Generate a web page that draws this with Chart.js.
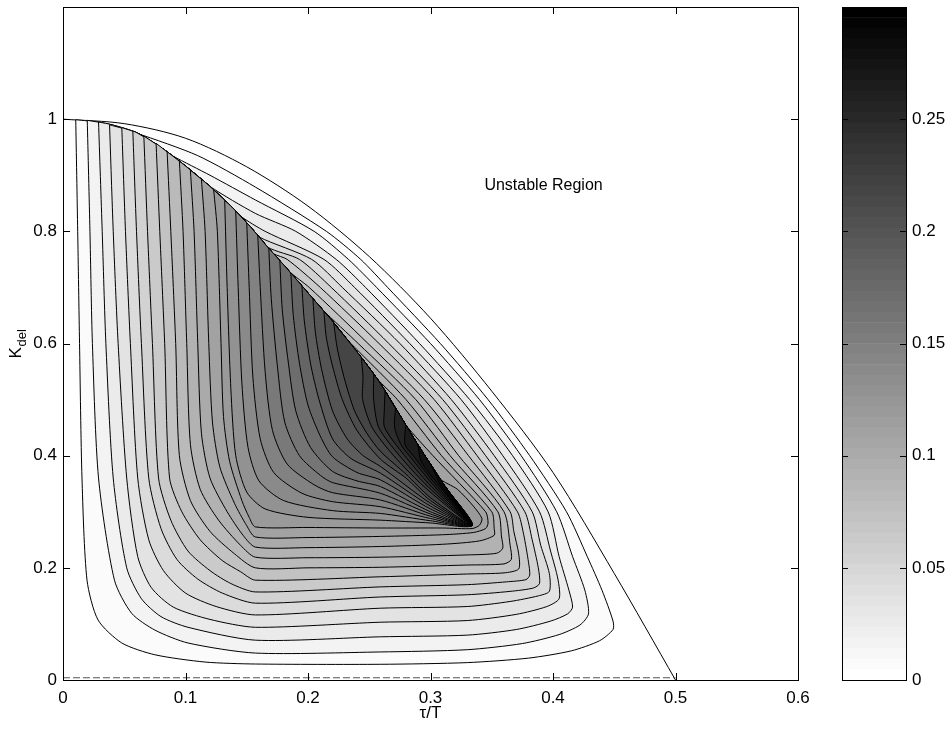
<!DOCTYPE html>
<html>
<head>
<meta charset="utf-8">
<script src="https://cdn.jsdelivr.net/npm/chart.js@4.4.0/dist/chart.umd.min.js"></script>
<style>
  html, body { margin: 0; padding: 0; background: #fff; }
  #wrap { position: relative; width: 951px; height: 730px; }
  canvas { position: absolute; left: 0; top: 0; }
</style>
</head>
<body>
<div id="wrap">
  <canvas id="main" width="951" height="730"></canvas>
  <canvas id="cbar" width="951" height="730"></canvas>
</div>
<script>
const xTicks = [0, 0.1, 0.2, 0.3, 0.4, 0.5, 0.6];
const yTicks = [0, 0.2, 0.4, 0.6, 0.8, 1];
const cbarTicks = [0, 0.05, 0.1, 0.15, 0.2, 0.25];

// stability boundary (level 0)
const boundaryX = [0, 0.05, 0.1, 0.15, 0.2, 0.25, 0.3, 0.35, 0.4, 0.45, 0.5];
const boundaryK = [1, 0.992, 0.966, 0.915, 0.845, 0.755, 0.645, 0.515, 0.37, 0.19, 0];

// thick ridge where the contours pile up, from (0,1) down to the focus point
const ridgeX = [0, 0.020, 0.040, 0.061, 0.083, 0.102, 0.120, 0.138, 0.153, 0.167, 0.185, 0.202, 0.218, 0.232, 0.246, 0.259, 0.275, 0.291, 0.312, 0.334];
const ridgeK = [1, 0.998, 0.990, 0.975, 0.945, 0.913, 0.880, 0.843, 0.808, 0.772, 0.728, 0.685, 0.645, 0.607, 0.568, 0.529, 0.472, 0.415, 0.345, 0.276];

// contour levels
const levels = [0.0091, 0.0182, 0.0273, 0.0364, 0.0455, 0.0546, 0.0637, 0.0728, 0.0819, 0.0910,
  0.1001, 0.1092, 0.1183, 0.1274, 0.1365, 0.1456, 0.1547, 0.1638, 0.1729, 0.1820,
  0.1911, 0.2002, 0.2093, 0.2184, 0.2275, 0.2366, 0.2457, 0.2548, 0.2639, 0.2730,
  0.2821, 0.2912];

// each contour starts where it leaves the ridge, runs down the left side,
// round the bottom and back up to the ridge (or into the focus point)
const contour01 = [[0.0104,0.999],[0.012,0.8],[0.0135,0.6],[0.0155,0.36],[0.0196,0.178],[0.0286,0.107],[0.048,0.066],[0.075,0.045],[0.116,0.032],[0.157,0.0285],[0.259,0.028],[0.33,0.031],[0.38,0.039],[0.415,0.052],[0.438,0.07],[0.449,0.09],[0.449,0.105],[0.44,0.16],[0.428,0.22],[0.411,0.3],[0.381,0.4],[0.347,0.5],[0.308,0.6],[0.265,0.7],[0.243,0.75],[0.215,0.8],[0.157,0.879],[0.11,0.935],[0.06,0.975],[0.03,0.994]];
const contour02 = [[0.0198,0.998],[0.022,0.8],[0.024,0.6],[0.029,0.36],[0.042,0.178],[0.056,0.119],[0.075,0.089],[0.102,0.066],[0.157,0.048],[0.259,0.05],[0.33,0.054],[0.375,0.065],[0.405,0.081],[0.422,0.098],[0.429,0.118],[0.426,0.16],[0.416,0.22],[0.403,0.3],[0.374,0.4],[0.34,0.5],[0.3,0.6],[0.256,0.7],[0.233,0.75],[0.205,0.8],[0.157,0.856],[0.12,0.9],[0.09,0.934]];
const contour03 = [[0.029,0.995],[0.032,0.8],[0.035,0.6],[0.041,0.36],[0.052,0.2],[0.064,0.145],[0.08,0.113],[0.102,0.094],[0.157,0.071],[0.259,0.077],[0.33,0.08],[0.37,0.09],[0.398,0.105],[0.412,0.118],[0.416,0.13],[0.413,0.16],[0.405,0.22],[0.396,0.3],[0.367,0.4],[0.332,0.5],[0.291,0.6],[0.247,0.7],[0.223,0.75],[0.19,0.8],[0.157,0.832],[0.12,0.88]];
const contour04 = [[0.038,0.99],[0.041,0.8],[0.045,0.6],[0.052,0.36],[0.061,0.22],[0.072,0.165],[0.09,0.13],[0.12,0.108],[0.157,0.094],[0.259,0.103],[0.33,0.106],[0.37,0.117],[0.395,0.131],[0.405,0.145],[0.404,0.18],[0.398,0.23],[0.389,0.3],[0.359,0.4],[0.325,0.5],[0.283,0.6],[0.238,0.7],[0.213,0.75],[0.165,0.8],[0.145,0.827]];
const contour05 = [[0.048,0.985],[0.051,0.8],[0.055,0.6],[0.061,0.36],[0.07,0.25],[0.082,0.195],[0.1,0.155],[0.125,0.131],[0.157,0.116],[0.259,0.128],[0.33,0.131],[0.365,0.14],[0.388,0.15],[0.397,0.158],[0.397,0.19],[0.39,0.24],[0.383,0.3],[0.352,0.4],[0.317,0.5],[0.275,0.6],[0.228,0.7],[0.203,0.75],[0.16,0.79]];
const contour06 = [[0.057,0.979],[0.06,0.8],[0.064,0.6],[0.07,0.36],[0.08,0.27],[0.093,0.215],[0.11,0.18],[0.13,0.155],[0.157,0.137],[0.259,0.148],[0.33,0.152],[0.365,0.158],[0.384,0.164],[0.389,0.172],[0.388,0.2],[0.383,0.25],[0.377,0.3],[0.345,0.4],[0.31,0.5],[0.266,0.6],[0.219,0.7],[0.193,0.75],[0.167,0.772]];
const contour07 = [[0.066,0.97],[0.069,0.8],[0.073,0.6],[0.078,0.36],[0.088,0.285],[0.102,0.23],[0.12,0.195],[0.137,0.172],[0.157,0.157],[0.259,0.166],[0.33,0.17],[0.362,0.175],[0.378,0.179],[0.381,0.187],[0.38,0.21],[0.376,0.26],[0.371,0.3],[0.338,0.4],[0.303,0.5],[0.258,0.6],[0.21,0.7],[0.183,0.75],[0.172,0.76]];
const contour08 = [[0.076,0.957],[0.079,0.8],[0.083,0.6],[0.087,0.36],[0.097,0.3],[0.112,0.25],[0.13,0.213],[0.145,0.193],[0.157,0.178],[0.259,0.184],[0.33,0.189],[0.36,0.191],[0.372,0.198],[0.372,0.225],[0.368,0.265],[0.365,0.3],[0.331,0.4],[0.295,0.5],[0.249,0.6],[0.201,0.7],[0.185,0.728]];
const contour09 = [[0.085,0.942],[0.088,0.8],[0.092,0.6],[0.095,0.4],[0.104,0.32],[0.12,0.265],[0.14,0.225],[0.157,0.2],[0.2,0.2],[0.259,0.201],[0.33,0.205],[0.36,0.207],[0.366,0.215],[0.365,0.24],[0.36,0.3],[0.323,0.4],[0.288,0.5],[0.241,0.6],[0.212,0.66]];
const contour10 = [[0.095,0.925],[0.098,0.8],[0.101,0.6],[0.104,0.42],[0.112,0.34],[0.127,0.285],[0.145,0.24],[0.157,0.219],[0.2,0.218],[0.259,0.219],[0.33,0.223],[0.354,0.226],[0.359,0.235],[0.358,0.255],[0.355,0.3],[0.316,0.4],[0.28,0.5],[0.235,0.6]];
const contour11 = [[0.104,0.909],[0.107,0.8],[0.11,0.6],[0.113,0.44],[0.12,0.36],[0.134,0.3],[0.147,0.258],[0.157,0.237],[0.2,0.236],[0.259,0.238],[0.31,0.242],[0.34,0.248],[0.352,0.258],[0.352,0.27],[0.35,0.3],[0.309,0.4],[0.273,0.5],[0.256,0.538]];
const contour12 = [[0.113,0.893],[0.116,0.8],[0.119,0.6],[0.122,0.46],[0.128,0.38],[0.14,0.315],[0.15,0.275],[0.157,0.255],[0.2,0.254],[0.259,0.256],[0.31,0.259],[0.335,0.263],[0.345,0.27],[0.347,0.28],[0.345,0.3],[0.302,0.4],[0.28,0.454]];
const contour13 = [[0.123,0.874],[0.126,0.8],[0.129,0.6],[0.131,0.47],[0.136,0.39],[0.146,0.32],[0.152,0.29],[0.157,0.273],[0.2,0.272],[0.259,0.271],[0.31,0.271],[0.334,0.27],[0.34,0.276],[0.342,0.288],[0.335,0.31],[0.322,0.34],[0.307,0.36]];
const contour14 = [[0.132,0.855],[0.134,0.7],[0.137,0.52],[0.141,0.4],[0.15,0.335],[0.165,0.305],[0.2,0.29],[0.259,0.285],[0.3,0.28],[0.334,0.276]];
const contour15 = [[0.141,0.836],[0.143,0.7],[0.146,0.53],[0.151,0.415],[0.16,0.355],[0.18,0.32],[0.22,0.302],[0.259,0.297],[0.3,0.284],[0.334,0.276]];
const contour16 = [[0.15,0.815],[0.152,0.7],[0.155,0.54],[0.161,0.43],[0.172,0.37],[0.195,0.333],[0.22,0.318],[0.259,0.309],[0.3,0.288],[0.334,0.276]];
const contour17 = [[0.159,0.793],[0.161,0.7],[0.165,0.55],[0.171,0.445],[0.183,0.385],[0.205,0.348],[0.22,0.334],[0.259,0.321],[0.3,0.292],[0.334,0.276]];
const contour18 = [[0.168,0.77],[0.17,0.68],[0.175,0.56],[0.181,0.46],[0.193,0.4],[0.21,0.365],[0.22,0.352],[0.259,0.333],[0.3,0.296],[0.334,0.276]];
const contour19 = [[0.177,0.748],[0.179,0.66],[0.184,0.565],[0.19,0.48],[0.202,0.415],[0.22,0.372],[0.24,0.355],[0.259,0.345],[0.3,0.3],[0.334,0.276]];
const contour20 = [[0.186,0.726],[0.188,0.65],[0.193,0.565],[0.2,0.49],[0.21,0.435],[0.22,0.398],[0.24,0.37],[0.259,0.357],[0.3,0.305],[0.334,0.276]];
const contour21 = [[0.195,0.703],[0.197,0.64],[0.202,0.565],[0.209,0.5],[0.22,0.43],[0.235,0.395],[0.259,0.369],[0.3,0.31],[0.334,0.276]];
const contour22 = [[0.204,0.68],[0.206,0.62],[0.211,0.555],[0.22,0.48],[0.232,0.43],[0.245,0.4],[0.259,0.381],[0.3,0.315],[0.334,0.276]];
const contour23 = [[0.213,0.657],[0.215,0.61],[0.22,0.56],[0.228,0.5],[0.24,0.445],[0.259,0.394],[0.28,0.36],[0.3,0.32],[0.334,0.276]];
const contour24 = [[0.221,0.636],[0.224,0.59],[0.23,0.535],[0.238,0.48],[0.248,0.44],[0.259,0.408],[0.28,0.367],[0.3,0.325],[0.334,0.276]];
// narrow dark wedge along the ridge
const contour25 = [[0.2435,0.575],[0.2449,0.54],[0.2446,0.5],[0.2524,0.45],[0.2699,0.4],[0.2921,0.35],[0.3191,0.3],[0.334,0.276]];
const contour26 = [[0.2537,0.545],[0.2536,0.5],[0.2578,0.45],[0.2747,0.4],[0.2955,0.35],[0.3204,0.3],[0.334,0.276]];
const contour27 = [[0.2629,0.515],[0.2623,0.48],[0.2625,0.45],[0.2789,0.4],[0.2985,0.35],[0.3216,0.3],[0.334,0.276]];
const contour28 = [[0.2714,0.485],[0.2707,0.45],[0.2758,0.42],[0.2827,0.4],[0.3013,0.35],[0.3227,0.3],[0.334,0.276]];
const contour29 = [[0.2798,0.455],[0.2792,0.42],[0.2859,0.4],[0.3036,0.35],[0.3236,0.3],[0.334,0.276]];
const contour30 = [[0.2896,0.42],[0.2923,0.39],[0.3059,0.35],[0.3245,0.3],[0.334,0.276]];
const contour31 = [[0.30,0.385],[0.3077,0.35],[0.3252,0.3],[0.334,0.276]];
const contour32 = [[0.3105,0.35],[0.3191,0.32],[0.334,0.276]];

const contours = [contour01, contour02, contour03, contour04, contour05, contour06, contour07, contour08, contour09, contour10,
  contour11, contour12, contour13, contour14, contour15, contour16, contour17, contour18, contour19, contour20,
  contour21, contour22, contour23, contour24, contour25, contour26, contour27, contour28, contour29, contour30,
  contour31, contour32];

function grayFor(level) {
  const idx = Math.min(63, Math.floor(level / 0.3 * 64));
  const v = Math.round(255 * (1 - idx / 63));
  return "rgb(" + v + "," + v + "," + v + ")";
}

// close a contour by running back up the ridge to where it started
function closedLoop(branch) {
  const top = branch[0];
  const end = branch[branch.length - 1];
  const pts = branch.map(function (p) { return { x: p[0], y: p[1] }; });
  for (let i = ridgeX.length - 1; i >= 0; i--) {
    if (ridgeK[i] > end[1] + 0.002 && ridgeK[i] < top[1] - 0.002) pts.push({ x: ridgeX[i], y: ridgeK[i] });
  }
  pts.push({ x: top[0], y: top[1] });
  return pts;
}

const datasets = [];
datasets.push({
  data: boundaryX.map(function (x, i) { return { x: x, y: boundaryK[i] }; }),
  borderColor: "#000", borderWidth: 1, pointRadius: 0, fill: false, tension: 0.3, order: 1000
});
datasets.push({
  data: [{ x: 0, y: 0.004 }, { x: 0.5, y: 0.004 }],
  borderColor: "#555", borderWidth: 1, borderDash: [7, 3], pointRadius: 0, fill: false, order: 999
});
contours.forEach(function (branch, k) {
  datasets.push({
    data: closedLoop(branch),
    borderColor: "#000", borderWidth: 1, pointRadius: 0, tension: 0.25,
    fill: "shape", backgroundColor: grayFor(levels[k]), order: 500 - k
  });
});

const font = { family: "'Liberation Sans', Arial, sans-serif", size: 17 };

const frame = {
  id: "frame",
  afterDraw(chart) {
    const { ctx, chartArea: a, scales } = chart;
    ctx.save();
    ctx.strokeStyle = "#000";
    ctx.lineWidth = 1;
    ctx.strokeRect(a.left + 0.5, a.top + 0.5, a.right - a.left, a.bottom - a.top);
    ctx.beginPath();
    xTicks.forEach(function (v) {
      const px = Math.round(scales.x.getPixelForValue(v)) + 0.5;
      ctx.moveTo(px, a.bottom); ctx.lineTo(px, a.bottom - 7);
      ctx.moveTo(px, a.top); ctx.lineTo(px, a.top + 7);
    });
    yTicks.forEach(function (v) {
      const py = Math.round(scales.y.getPixelForValue(v)) + 0.5;
      ctx.moveTo(a.left, py); ctx.lineTo(a.left + 7, py);
      ctx.moveTo(a.right, py); ctx.lineTo(a.right - 7, py);
    });
    ctx.stroke();
    ctx.fillStyle = "#000";
    ctx.font = "16px 'Liberation Sans', Arial, sans-serif";
    ctx.textAlign = "left";
    ctx.textBaseline = "middle";
    ctx.fillText("Unstable Region", scales.x.getPixelForValue(0.344), scales.y.getPixelForValue(0.882));
    ctx.font = "17px 'Liberation Sans', Arial, sans-serif";
    ctx.textAlign = "center";
    ctx.fillText("\u03c4/T", (a.left + a.right) / 2, 713);
    ctx.translate(16, (a.top + a.bottom) / 2);
    ctx.rotate(-Math.PI / 2);
    ctx.textAlign = "left";
    ctx.fillText("K", -15, 0);
    ctx.font = "13px 'Liberation Sans', Arial, sans-serif";
    ctx.fillText("del", -3, 6);
    ctx.restore();
  }
};

function noEdgePadding(s) {
  s.paddingTop = 0; s.paddingBottom = 0; s.paddingLeft = 0; s.paddingRight = 0;
}

new Chart(document.getElementById("main"), {
  type: "line",
  data: { datasets: datasets },
  options: {
    responsive: false,
    animation: false,
    events: [],
    layout: { padding: { top: 7, right: 153, left: 0, bottom: 0 } },
    plugins: { legend: { display: false }, tooltip: { enabled: false } },
    scales: {
      x: {
        type: "linear", min: 0, max: 0.6,
        afterBuildTicks: function (s) { s.ticks = xTicks.map(function (v) { return { value: v }; }); },
        afterFit: function (s) { s.height = 50; noEdgePadding(s); },
        grid: { display: false, drawTicks: false },
        border: { display: false },
        ticks: { color: "#000", font: font, padding: 8, maxRotation: 0, callback: function (v) { return String(v); } }
      },
      y: {
        type: "linear", min: 0, max: 1.2,
        afterBuildTicks: function (s) { s.ticks = yTicks.map(function (v) { return { value: v }; }); },
        afterFit: function (s) { s.width = 63; noEdgePadding(s); },
        grid: { display: false, drawTicks: false },
        border: { display: false },
        ticks: { color: "#000", font: font, padding: 6, callback: function (v) { return String(v); } }
      }
    }
  },
  plugins: [frame]
});

// colour bar: 64 grey steps from 0 to 0.3
const cbarSteps = 64;
const cbarSets = [];
for (let i = 0; i < cbarSteps; i++) {
  const v = Math.round(255 * (1 - i / 63));
  cbarSets.push({ data: [0.3 / cbarSteps], backgroundColor: "rgb(" + v + "," + v + "," + v + ")", borderWidth: 0, barPercentage: 1, categoryPercentage: 1 });
}

const cbarFrame = {
  id: "cbarFrame",
  afterDraw(chart) {
    const { ctx, chartArea: a, scales } = chart;
    ctx.save();
    ctx.strokeStyle = "#000";
    ctx.lineWidth = 1;
    ctx.strokeRect(a.left + 0.5, a.top + 0.5, a.right - a.left, a.bottom - a.top);
    ctx.beginPath();
    cbarTicks.forEach(function (v) {
      const py = Math.round(scales.y.getPixelForValue(v)) + 0.5;
      ctx.moveTo(a.left, py); ctx.lineTo(a.left + 6, py);
      ctx.moveTo(a.right, py); ctx.lineTo(a.right - 6, py);
    });
    ctx.stroke();
    ctx.restore();
  }
};

new Chart(document.getElementById("cbar"), {
  type: "bar",
  data: { labels: [""], datasets: cbarSets },
  options: {
    responsive: false,
    animation: false,
    events: [],
    layout: { padding: { top: 7, right: 0, left: 842, bottom: 50 } },
    plugins: { legend: { display: false }, tooltip: { enabled: false } },
    scales: {
      x: { stacked: true, display: false },
      y: {
        stacked: true, position: "right", min: 0, max: 0.3,
        afterBuildTicks: function (s) { s.ticks = cbarTicks.map(function (v) { return { value: v }; }); },
        afterFit: function (s) { s.width = 45; noEdgePadding(s); },
        grid: { display: false, drawTicks: false },
        border: { display: false },
        ticks: { color: "#000", font: font, padding: 6, callback: function (v) { return String(v); } }
      }
    }
  },
  plugins: [cbarFrame]
});
</script>
</body>
</html>
